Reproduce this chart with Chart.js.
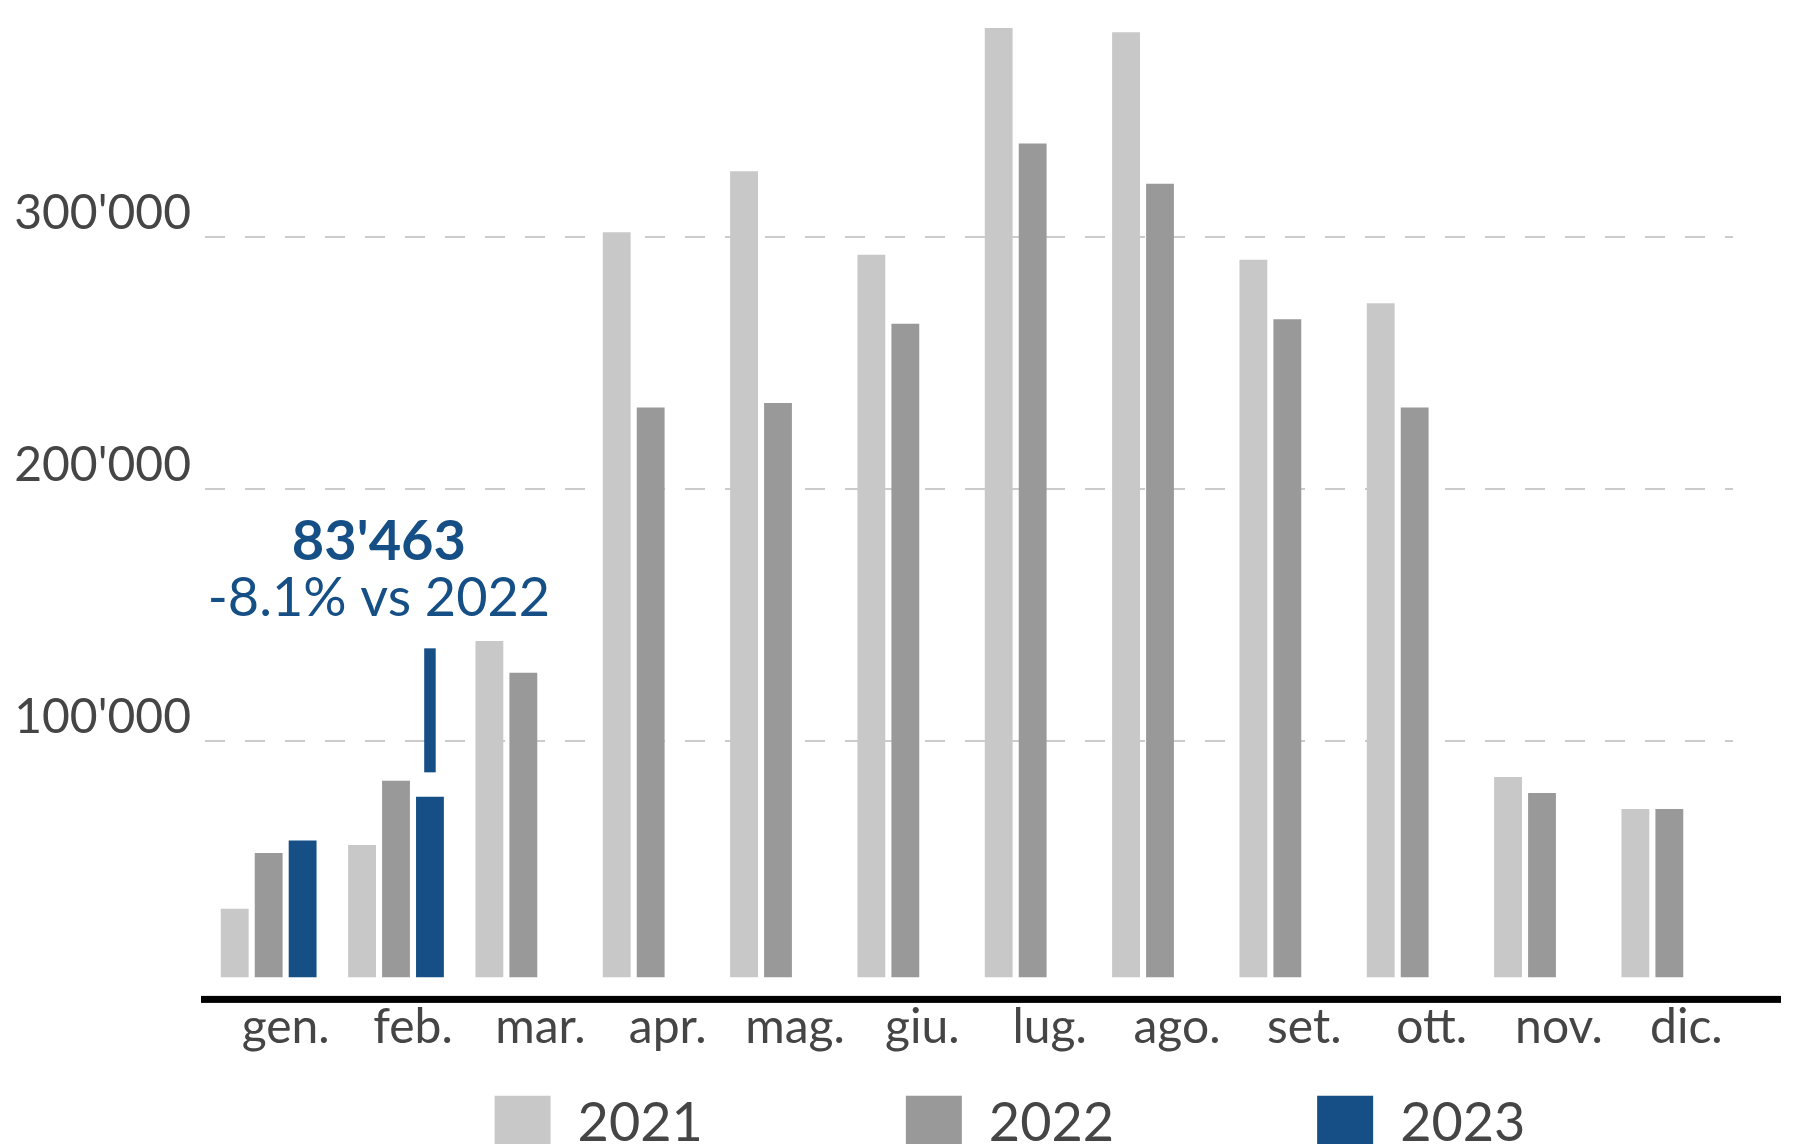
<!DOCTYPE html>
<html><head><meta charset="utf-8">
<script src="https://cdn.jsdelivr.net/npm/chart.js@4.4.1/dist/chart.umd.min.js"></script>
<style>
html,body{margin:0;padding:0;background:#fff;overflow:hidden}
#wrap{width:1799px;height:1144px;overflow:hidden;position:relative;background:#fff}
canvas{display:block}
</style></head><body>
<div id="wrap"><canvas id="c" width="1799" height="1346"></canvas></div>
<script>
// ---- data ----
const months = ['gen.','feb.','mar.','apr.','mag.','giu.','lug.','ago.','set.','ott.','nov.','dic.'];
const years = ['2021','2022','2023'];
const values2021 = [31700, 61200, 155400, 344300, 372400, 333800, 438600, 436700, 331600, 311500, 92600, 77800];
const values2022 = [57500, 90819, 140700, 263300, 265400, 302000, 385200, 366700, 304100, 263300, 85200, 77800];
const values2023 = [63200, 83463, null, null, null, null, null, null, null, null, null, null];
const gridTicks = [100000, 200000, 300000];
const highlightIndex = 1;

// ---- style ----
const C21 = '#c8c8c8', C22 = '#999999', C23 = '#154f85', TXT = '#454545';
Chart.defaults.font.family = 'Lato';

const fmt = v => String(Math.round(v)).replace(/\B(?=(\d{3})+(?!\d))/g, "'");
const change = (values2023[highlightIndex] / values2022[highlightIndex] - 1) * 100;
const changeText = (change >= 0 ? '+' : '') + change.toFixed(1) + '% vs ' + years[1];

const decor = {
  id: 'decor',
  afterLayout(chart) {
    const lg = chart.legend; if (!lg) return;
    const pad = lg.options.labels.padding;
    const a = chart.chartArea;
    const dy = (a.bottom + 118.4) - (lg.top + pad);
    lg.top += dy; lg.bottom += dy;
    const dx = (a.left + a.right) / 2 + 41 - (lg.left + lg.right) / 2;
    lg.left += dx; lg.right += dx;
  },
  afterDraw(chart) {
    const ctx = chart.ctx, a = chart.chartArea;
    ctx.save();
    ctx.fillStyle = '#000';
    ctx.fillRect(a.left - 4, a.bottom + 18.5, a.right - a.left + 52, 7);
    const bar = chart.getDatasetMeta(2).data[highlightIndex];
    ctx.fillStyle = C23;
    ctx.fillRect(bar.x - 5.75, bar.y - 148.4, 11.5, 124);
    ctx.textAlign = 'center';
    ctx.textBaseline = 'alphabetic';
    ctx.font = 'bold 56px Lato';
    ctx.fillText(fmt(values2023[highlightIndex]), bar.x - 51, bar.y - 237.2);
    ctx.font = '54px Lato';
    ctx.fillText(changeText, bar.x - 51, bar.y - 180.7);
    ctx.restore();
  }
};

new Chart(document.getElementById('c'), {
  type: 'bar',
  data: {
    labels: months,
    datasets: [
      {label: years[0], data: values2021, backgroundColor: C21},
      {label: years[1], data: values2022, backgroundColor: C22},
      {label: years[2], data: values2023, backgroundColor: C23}
    ]
  },
  options: {
    responsive: false,
    animation: false,
    events: [],
    datasets: {bar: {barPercentage: 0.82, categoryPercentage: 0.80, borderWidth: 0}},
    layout: {padding: {top: 12, right: 66, left: 0, bottom: 0}},
    scales: {
      x: {
        grid: {display: false, drawTicks: false},
        border: {display: false},
        ticks: {color: TXT, font: {size: 48}, padding: 21, labelOffset: 17, maxRotation: 0, autoSkip: false}
      },
      y: {display: false, min: 0, max: 446000},
      y2: {
        position: 'left',
        min: 6070, max: 389100,
        z: 1,
        afterBuildTicks: s => { s.ticks = gridTicks.map(v => ({value: v})); },
        afterFit: s => { s.width = 205; s.paddingTop = 0; s.paddingBottom = 0; },
        grid: {color: 'rgba(0,0,0,0.2)', lineWidth: 2, drawTicks: false},
        border: {display: false, dash: [20, 20]},
        ticks: {color: TXT, font: {size: 48, lineHeight: 0.02}, padding: 14, labelOffset: -23, callback: v => fmt(v)}
      }
    },
    plugins: {
      tooltip: {enabled: false},
      legend: {
        position: 'bottom',
        labels: {color: TXT, font: {size: 54}, boxWidth: 56, boxHeight: 56, padding: 203}
      }
    }
  },
  plugins: [decor]
});
</script>
</body></html>
